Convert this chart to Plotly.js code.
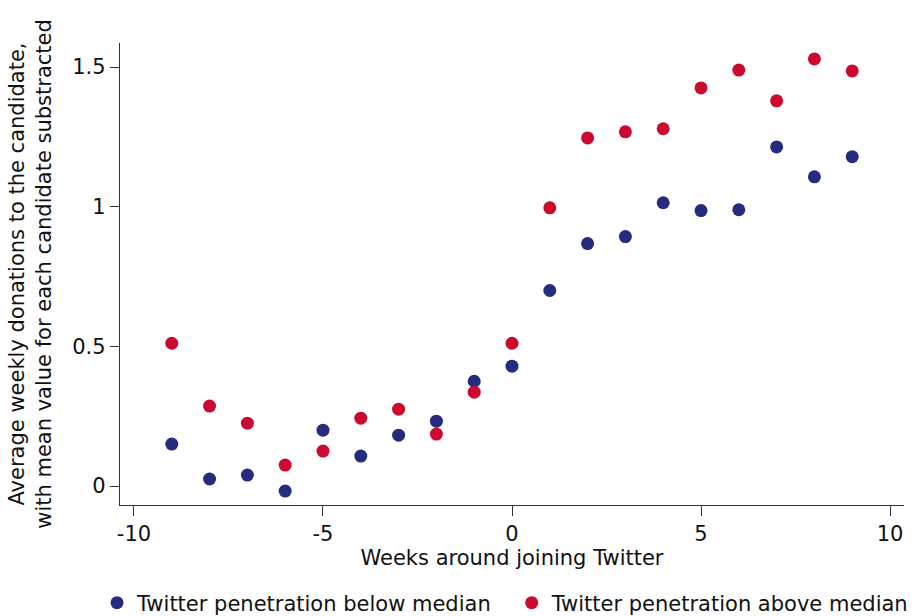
<!DOCTYPE html>
<html><head><meta charset="utf-8">
<script src="https://cdn.plot.ly/plotly-3.0.1.min.js"></script>
<style>body{margin:0;background:#fff}#c{width:917px;height:616px}</style>
</head><body><div id="c"></div>
<script>
const weeks = [-9,-8,-7,-6,-5,-4,-3,-2,-1,0,1,2,3,4,5,6,7,8,9];
const belowMedian = [0.150,0.025,0.039,-0.018,0.200,0.107,0.182,0.232,0.375,0.429,0.700,0.868,0.893,1.014,0.986,0.989,1.214,1.107,1.179];
const aboveMedian = [0.511,0.286,0.225,0.075,0.125,0.243,0.275,0.186,0.336,0.511,0.996,1.246,1.268,1.279,1.425,1.489,1.379,1.529,1.486];
const seriesNames = ["Twitter penetration below median","Twitter penetration above median"];
const xTicks = [-10,-5,0,5,10];
const xTickText = ["-10","-5","0","5","10"];
const yTicks = [0,0.5,1,1.5];
const yTickText = ["0","0.5","1","1.5"];

const font = "DejaVu Sans, sans-serif";
const traces = [
  {x: weeks, y: belowMedian, name: seriesNames[0], type: "scatter", mode: "markers",
   legend: "legend", marker: {color: "#252C80", size: 13}},
  {x: weeks, y: aboveMedian, name: seriesNames[1], type: "scatter", mode: "markers",
   legend: "legend2", marker: {color: "#CC0A30", size: 13}}
];
const legendBase = {orientation: "h", xref: "container", yref: "container", xanchor: "left",
                    y: 0.021, yanchor: "middle", font: {size: 21}, itemwidth: 30,
                    bgcolor: "rgba(0,0,0,0)", borderwidth: 0};
const layout = {
  width: 917, height: 616,
  margin: {l: 120, r: 13, t: 43, b: 111, autoexpand: false},
  paper_bgcolor: "#fff", plot_bgcolor: "#fff",
  font: {family: font, size: 21, color: "#111"},
  showlegend: true,
  legend: Object.assign({}, legendBase, {x: 0.1058}),
  legend2: Object.assign({}, legendBase, {x: 0.558}),
  xaxis: {range: [-10.37, 10.37], tickvals: xTicks, ticktext: xTickText, ticks: "outside", ticklen: 10,
          tickcolor: "#333", showline: true, linecolor: "#333", linewidth: 1.3,
          showgrid: false, zeroline: false, tickfont: {size: 21}, automargin: false,
          title: {text: "Weeks around joining Twitter", font: {size: 21}, standoff: 0}},
  yaxis: {range: [-0.068, 1.586], tickvals: yTicks, ticktext: yTickText, ticks: "outside",
          ticklen: 9, tickcolor: "#333", showline: true, linecolor: "#333", linewidth: 1.3,
          showgrid: false, zeroline: false, tickfont: {size: 21}, automargin: false,
          title: {text: "Average weekly donations to the candidate,<br>with mean value for each candidate substracted",
                  font: {size: 21}, standoff: 14}}
};
Plotly.newPlot("c", traces, layout, {displayModeBar: false});
</script></body></html>
